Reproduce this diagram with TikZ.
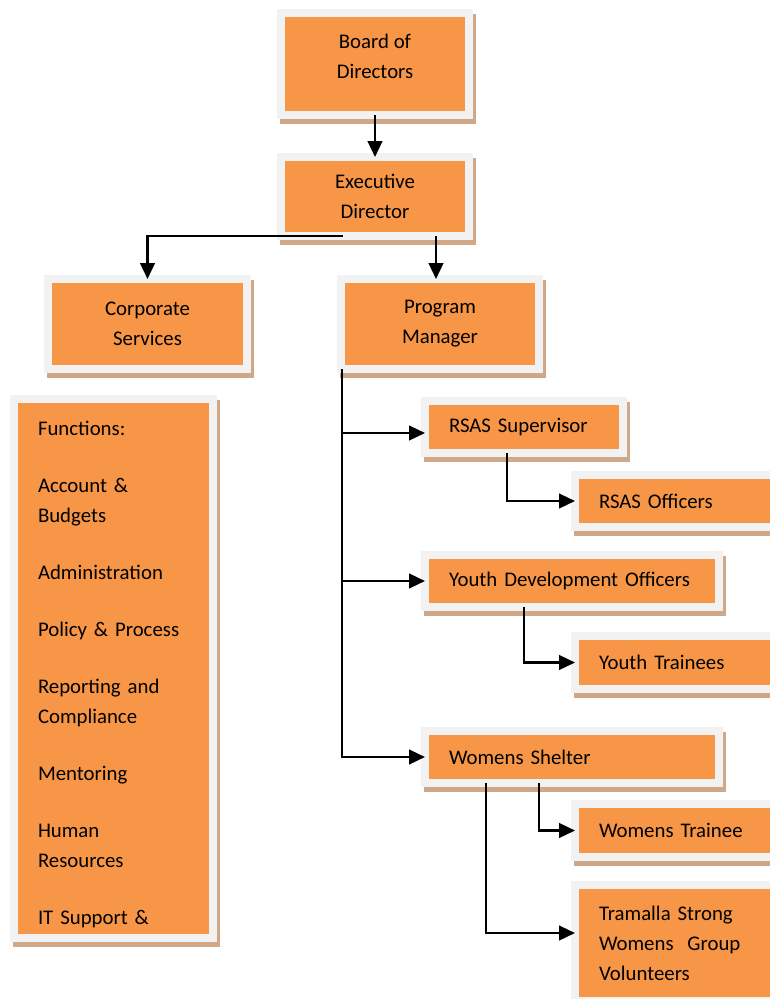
\documentclass[tikz,border=0pt]{standalone}
\usepackage{fontspec}
\setmainfont{Carlito}
\usetikzlibrary{shadows,arrows.meta}
\definecolor{unitorange}{RGB}{247,150,70}
\definecolor{framegray}{RGB}{242,242,242}
\definecolor{shadowtan}{RGB}{208,168,136}
\begin{document}
\begin{tikzpicture}[x=0.75pt,y=-0.75pt,
  unit/.style={rectangle, fill=unitorange, draw=framegray, line width=6pt, outer sep=0pt,
    drop shadow={shadow xshift=2.25pt, shadow yshift=-3.75pt, opacity=1,
      fill=shadowtan, draw=shadowtan, line width=6pt},
    font=\fontsize{15.6}{22.5}\selectfont, text=black, align=center},
  role/.style={unit, align=left, inner xsep=3pt, execute at begin node={\leftskip=15pt}},
  link/.style={line width=1.8pt, -{Triangle[length=12pt,width=11pt]}}]
\useasboundingbox (0,0) rectangle (769,999);

% top of the chart
\node[unit, minimum width=141pt, minimum height=76.5pt] (board) at (375,64)
  {Board of\\Directors\rule[-12pt]{0pt}{12pt}};
\node[unit, minimum width=141pt, minimum height=59.25pt] (exec) at (375,196.5) {Executive\\Director};
\node[unit, minimum width=149.25pt, minimum height=67.5pt] (corp) at (147.5,324) {Corporate\\Services};
\node[unit, minimum width=148.5pt, minimum height=67.5pt] (prog) at (440,324) {Program\\Manager};

% corporate functions
\node[role, text width=143.25pt, minimum height=404.25pt] (func) at (113.5,668.5)
  {\rule{0pt}{20pt}Functions:\\[20.25pt]
   Account \&\\Budgets\\[20.25pt]
   Administration\\[20.25pt]
   Policy \& Process\\[20.25pt]
   Reporting and\\Compliance\\[20.25pt]
   Mentoring\\[20.25pt]
   Human\\Resources\\[20.25pt]
   IT Support \&};

% programs
\node[role, text width=142.5pt, minimum height=39pt] (sup) at (524,427) {RSAS Supervisor};
\node[role, text width=159pt, minimum height=39pt] (roff) at (685,501) {RSAS Officers};
\node[role, text width=214.5pt, minimum height=39pt] (ydev) at (572,581) {Youth Development Officers};
\node[role, text width=159pt, minimum height=39.75pt] (ytr) at (685,662.5) {Youth Trainees};
\node[role, text width=214.5pt, minimum height=39pt] (shelter) at (572,757) {Womens Shelter};
\node[role, text width=159pt, minimum height=39.75pt] (wtr) at (685,830.5) {Womens Trainee};
\node[role, text width=159pt, minimum height=87pt] (tram) at (685,943)
  {Tramalla Strong\\Womens\ \ Group\\Volunteers};

% connectors
\coordinate (split) at ([xshift=45.75pt]exec.south);
\coordinate (trunk) at ([xshift=0.75pt]prog.south west);
\coordinate (supin) at ([yshift=-4.5pt]sup.west);
\coordinate (tramin) at ([yshift=7.5pt]tram.west);

\draw[link] (board) -- (exec);
\draw[link] ([xshift=-24pt]exec.south) -| (corp.north);
\draw[link] (split) -- (split |- prog.north);
\draw[link] (trunk) |- (shelter.west);
\draw[link] (trunk |- supin) -- (supin);
\draw[link] (trunk |- ydev.west) -- (ydev.west);
\draw[link] ([xshift=-12.75pt]sup.south) |- (roff.west);
\draw[link] ([xshift=-36pt]ydev.south) |- (ytr.west);
\draw[link] ([xshift=-24.75pt]shelter.south) |- (wtr.west);
\draw[link] ([xshift=-64.5pt]shelter.south) |- (tramin);
\end{tikzpicture}
\end{document}
